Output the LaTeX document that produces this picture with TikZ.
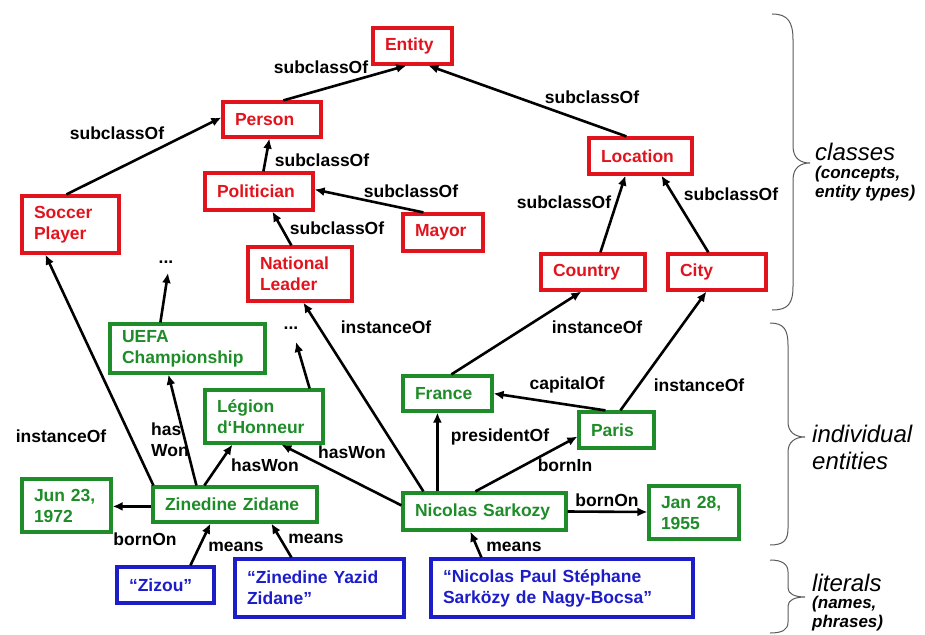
\documentclass[tikz,border=0pt]{standalone}
\usepackage{fontspec}
\setmainfont{Liberation Sans}
\usetikzlibrary{calc,arrows.meta}
\definecolor{cred}{RGB}{225,20,30}
\definecolor{cgreen}{RGB}{30,140,40}
\definecolor{cblue}{RGB}{28,28,200}
\definecolor{cbrace}{RGB}{90,90,90}
\newcommand\lbl{\fontsize{17.5}{21}\selectfont\bfseries}
\newcommand\bigside{\fontsize{24}{27}\selectfont\itshape}
\newcommand\smallside{\fontsize{17}{19}\selectfont\bfseries\itshape}
\newcommand\bx[7]{%
  \pgfmathsetmacro\bxw{#5-#3}\pgfmathsetmacro\bxh{#6-#4}%
  \pgfmathsetmacro\bxcx{(#3+#5)/2}\pgfmathsetmacro\bxcy{(#4+#6)/2}%
  \pgfmathsetmacro\bxt{#5-#3-24}%
  \node[#1, minimum width=\bxw pt, minimum height=\bxh pt, text width=\bxt pt] (#2) at (\bxcx,\bxcy) {#7};}
\begin{document}
\begin{tikzpicture}[x=1pt,y=-1pt,
  box/.style={draw, line width=3.2pt, align=left, inner xsep=12pt, inner ysep=0pt, font=\lbl},
  cls/.style={box, draw=cred, text=cred},
  ind/.style={box, draw=cgreen, text=cgreen},
  lit/.style={box, draw=cblue, text=cblue},
  lab/.style={font=\lbl, inner sep=0pt, align=left},
  arr/.style={line width=2.6pt, -{Latex[length=10pt,width=9pt]}},
  bracepath/.style={draw=cbrace, line width=1pt}]
\useasboundingbox (0,0) rectangle (925,634);
% classes
\bx{cls}{entity}{373}{28}{452}{64}{Entity}
\bx{cls}{person}{223}{102}{321}{137}{Person}
\bx{cls}{politician}{205}{173}{313}{210}{Politician}
\bx{cls}{soccer}{22}{196}{119}{253}{Soccer\\Player}
\bx{cls}{mayor}{403}{214}{483}{251}{Mayor}
\bx{cls}{natl}{248}{247}{352}{301}{National\\Leader}
\bx{cls}{location}{589}{138}{692}{174}{Location}
\bx{cls}{country}{541}{254}{645}{290}{Country}
\bx{cls}{city}{668}{254}{766}{290}{City}
% individuals
\bx{ind}{uefa}{110}{324}{265}{373}{UEFA\\Championship}
\bx{ind}{legion}{205}{390}{323}{443}{Légion\\d‘Honneur}
\bx{ind}{jun}{22}{479}{111}{532}{Jun 23,\\1972}
\bx{ind}{zidane}{153}{487}{317}{522}{Zinedine Zidane}
\bx{ind}{france}{403}{376}{492}{411}{France}
\bx{ind}{paris}{579}{412}{654}{448}{Paris}
\bx{ind}{sarkozy}{403}{493}{566}{530}{Nicolas Sarkozy}
\bx{ind}{jan}{649}{486}{739}{539}{Jan 28,\\1955}
% literals
\bx{lit}{zizou}{117}{567}{214}{603}{“Zizou”}
\bx{lit}{zyz}{235}{559}{404}{617}{“Zinedine Yazid\\Zidane”}
\bx{lit}{npss}{431}{559}{693}{617}{“Nicolas Paul Stéphane\\Sarközy de Nagy-Bocsa”}
% dots
\node[lab] (dotsa) at (166,262) {...};
\node[lab] (dotsb) at (291,328) {...};
\coordinate (dotsaend) at (168,273);
\coordinate (dotsbend) at (296,342);
% class edges
\draw[arr] ($(person.north west)+(62,0)$) -- ($(entity.south west)+(35,0)$);
\draw[arr] ($(location.north west)+(39,0)$) -- ($(entity.south west)+(57,0)$);
\draw[arr] ($(soccer.north west)+(46,0)$) -- ($(person.west)+(0,-2)$);
\draw[arr] ($(politician.north west)+(60,0)$) -- ($(person.south west)+(48,0)$);
\draw[arr] ($(mayor.north west)+(22,0)$) -- ($(politician.east)+(0,-2)$);
\draw[arr] ($(natl.north west)+(45,0)$) -- ($(politician.south west)+(69,0)$);
\draw[arr] ($(country.north west)+(61,0)$) -- ($(location.south west)+(38,0)$);
\draw[arr] ($(city.north west)+(42,0)$) -- ($(location.south west)+(74,0)$);
% instance edges
\draw[arr] ($(france.north west)+(50,0)$) -- ($(country.south west)+(42,0)$);
\draw[arr] ($(paris.north west)+(43,0)$) -- ($(city.south west)+(40,0)$);
\draw[arr] ($(paris.north west)+(28,0)$) -- (france.east);
\draw[arr] ($(sarkozy.north west)+(36,0)$) -- ($(france.south west)+(36,0)$);
\draw[arr] ($(sarkozy.north west)+(74,0)$) -- ($(paris.south west)+(0,-13)$);
\draw[arr] (sarkozy.east) -- ($(jan.west)+(0,-0.5)$);
\draw[arr] ($(sarkozy.north west)+(22,0)$) -- ($(natl.south west)+(57,0)$);
\draw[arr] ($(sarkozy.north west)+(0,14)$) -- ($(legion.south west)+(78,0)$);
\draw[arr] ($(npss.north west)+(52,0)$) -- ($(sarkozy.south west)+(69,0)$);
\draw[arr] ($(zidane.north west)+(2,0)$) -- ($(soccer.south west)+(25,0)$);
\draw[arr] ($(zidane.north west)+(45,0)$) -- ($(uefa.south west)+(60,0)$);
\draw[arr] ($(zidane.north west)+(53,0)$) -- ($(legion.south west)+(29,0)$);
\draw[arr] ($(zidane.north west)+(0,21)$) -- ($(jun.north east)+(0,29)$);
\draw[arr] ($(zizou.north west)+(75,0)$) -- ($(zidane.south west)+(59,0)$);
\draw[arr] ($(zyz.north west)+(58,0)$) -- ($(zidane.south west)+(120,0)$);
\draw[arr] ($(uefa.north west)+(52,0)$) -- (dotsaend);
\draw[arr] ($(legion.north east)+(-15,0)$) -- (dotsbend);
% labels
\node[lab] at (321,67) {subclassOf};
\node[lab] at (592,97) {subclassOf};
\node[lab] at (117,133) {subclassOf};
\node[lab] at (322,160) {subclassOf};
\node[lab] at (411,191) {subclassOf};
\node[lab] at (337,228) {subclassOf};
\node[lab] at (564,202) {subclassOf};
\node[lab] at (731,194) {subclassOf};
\node[lab] at (597,327) {instanceOf};
\node[lab] at (699,385) {instanceOf};
\node[lab] at (567,385) {capitalOf};
\node[lab] at (500,437) {presidentOf};
\node[lab] at (565,465) {bornIn};
\node[lab] at (607,500) {bornOn};
\node[lab] at (386,327) {instanceOf};
\node[lab] at (352,452) {hasWon};
\node[lab] at (514,547) {means};
\node[lab] at (61,436) {instanceOf};
\node[lab] at (170,440) {has\\Won};
\node[lab] at (265,465) {hasWon};
\node[lab] at (145,539) {bornOn};
\node[lab] at (236,547) {means};
\node[lab] at (316,539) {means};
% braces
\draw[bracepath] (772,14) .. controls (788,14) and (793,22) .. (793,40) -- (793,146)
  .. controls (793,158) and (800,163) .. (810,163)
  .. controls (800,163) and (793,168) .. (793,180) -- (793,286)
  .. controls (793,304) and (788,310) .. (772,310);
\draw[bracepath] (770,323) .. controls (784,323) and (788,330) .. (788,345) -- (788,422)
  .. controls (788,432) and (795,437) .. (805,437)
  .. controls (795,437) and (788,442) .. (788,452) -- (788,528)
  .. controls (788,540) and (784,545) .. (770,545);
\draw[bracepath] (770,560) .. controls (782,560) and (788,564) .. (788,572) -- (788,588)
  .. controls (788,594) and (795,597) .. (805,597)
  .. controls (795,597) and (788,600) .. (788,606) -- (788,622)
  .. controls (788,630) and (782,633) .. (770,633);
% side texts
\node[anchor=west, inner sep=0pt, font=\bigside] (tclasses) at (815,152) {classes};
\node[anchor=north west, inner sep=0pt, align=left, font=\smallside] (tconcepts) at (815,166) {(concepts,\\entity types)};
\node[anchor=north west, inner sep=0pt, align=left, font=\bigside] (tindiv) at (812,425) {individual\\entities};
\node[anchor=west, inner sep=0pt, font=\bigside] (tlit) at (812,583) {literals};
\node[anchor=north west, inner sep=0pt, align=left, font=\smallside] (tnames) at (812,596) {(names,\\phrases)};
\end{tikzpicture}
\end{document}
